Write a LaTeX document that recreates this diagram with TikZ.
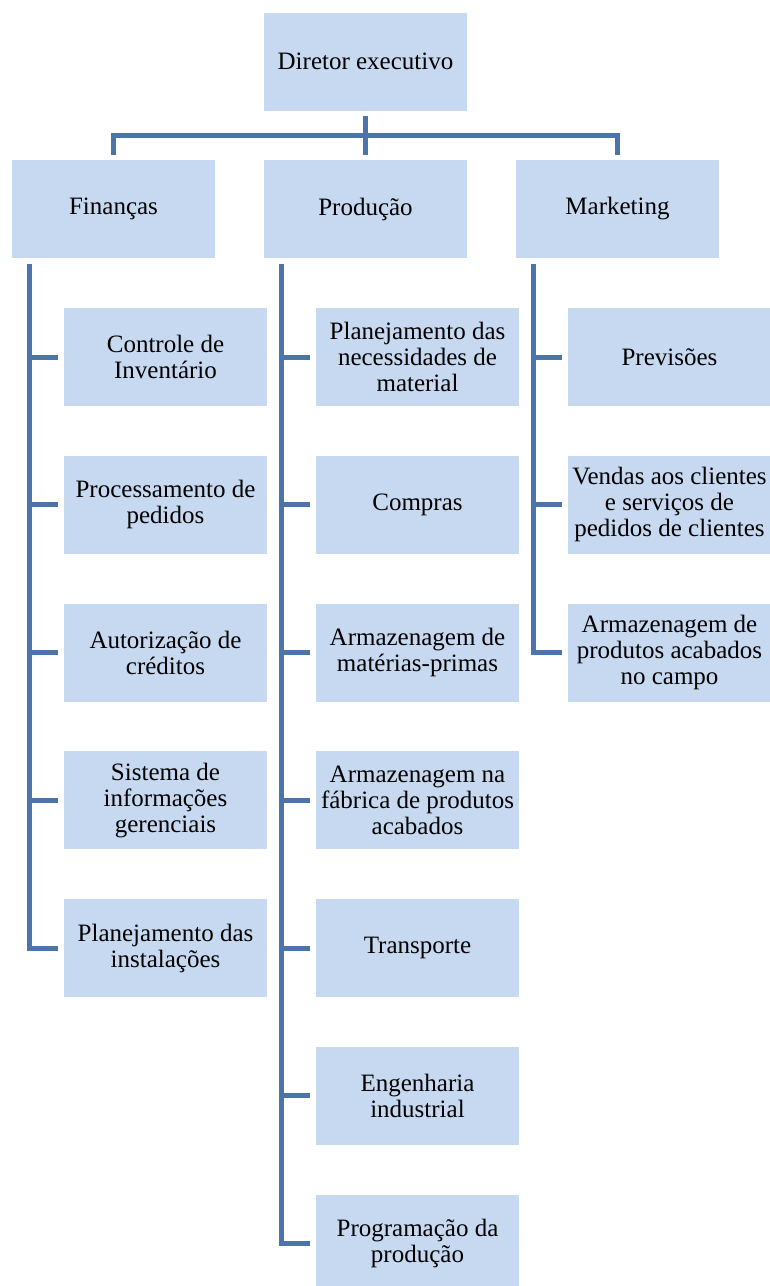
\documentclass[tikz,border=0pt]{standalone}
\usepackage{fontspec}
\setmainfont{Liberation Serif}
\definecolor{caixaazul}{HTML}{C6D9F0}
\definecolor{linhaazul}{HTML}{4A74AA}
\tikzset{caixa/.style={fill=caixaazul, minimum width=101.5pt, minimum height=49pt, inner sep=0pt, align=center, font=\fontsize{12.5}{13}\selectfont},
	linha/.style={draw=linhaazul, line width=2.5pt}}

\begin{document}
\begin{tikzpicture}[x=0.5pt, y=-0.5pt]
		\useasboundingbox (0,0) rectangle (770,1286);
		\node[caixa] (diretor) at (365.5,61.5) {Diretor executivo};
		\node[caixa] (financas) at (113.5,209) {Finanças};
		\node[caixa] (producao) at (365.5,209) {Produção};
		\node[caixa] (marketing) at (617.5,209) {Marketing};
		% filhos de cada departamento
		\foreach \i/\t in {1/{Controle de\\Inventário}, 2/{Processamento de\\pedidos}, 3/{Autorização de\\créditos}, 4/{Sistema de\\informações\\gerenciais}, 5/{Planejamento das\\instalações}}
			\node[caixa] (fin\i) at (165.5,{357+147.75*(\i-1)}) {\t};
		\foreach \i/\t in {1/{Planejamento das\\necessidades de\\material}, 2/{Compras}, 3/{Armazenagem de\\matérias-primas}, 4/{Armazenagem na\\fábrica de produtos\\acabados}, 5/{Transporte}, 6/{Engenharia\\industrial}, 7/{Programação da\\produção}}
			\node[caixa] (pro\i) at (417.5,{357+147.75*(\i-1)}) {\t};
		\foreach \i/\t in {1/{Previsões}, 2/{Vendas aos clientes\\e serviços de\\pedidos de clientes}, 3/{Armazenagem de\\produtos acabados\\no campo}}
			\node[caixa] (mkt\i) at (669.5,{357+147.75*(\i-1)}) {\t};
		% ligacoes
		\coordinate (barra) at (365.5,135);
		\draw[linha] ([yshift=-2.5pt]diretor.south) -- ([yshift=2.5pt]producao.north);
		\draw[linha] ([yshift=2.5pt]financas.north) |- (barra) -| ([yshift=2.5pt]marketing.north);
		\draw[linha] ([xshift=9pt,yshift=-3pt]financas.south west) |- ([xshift=-3pt]fin5.west);
		\draw[linha] ([xshift=9pt,yshift=-3pt]producao.south west) |- ([xshift=-3pt]pro7.west);
		\draw[linha] ([xshift=9pt,yshift=-3pt]marketing.south west) |- ([xshift=-3pt]mkt3.west);
		\foreach \i in {1,...,4}
			\draw[linha] ([xshift=-3pt]fin\i.west) -- ++(-15pt,0);
		\foreach \i in {1,...,6}
			\draw[linha] ([xshift=-3pt]pro\i.west) -- ++(-15pt,0);
		\foreach \i in {1,2}
			\draw[linha] ([xshift=-3pt]mkt\i.west) -- ++(-15pt,0);
\end{tikzpicture}
\end{document}
